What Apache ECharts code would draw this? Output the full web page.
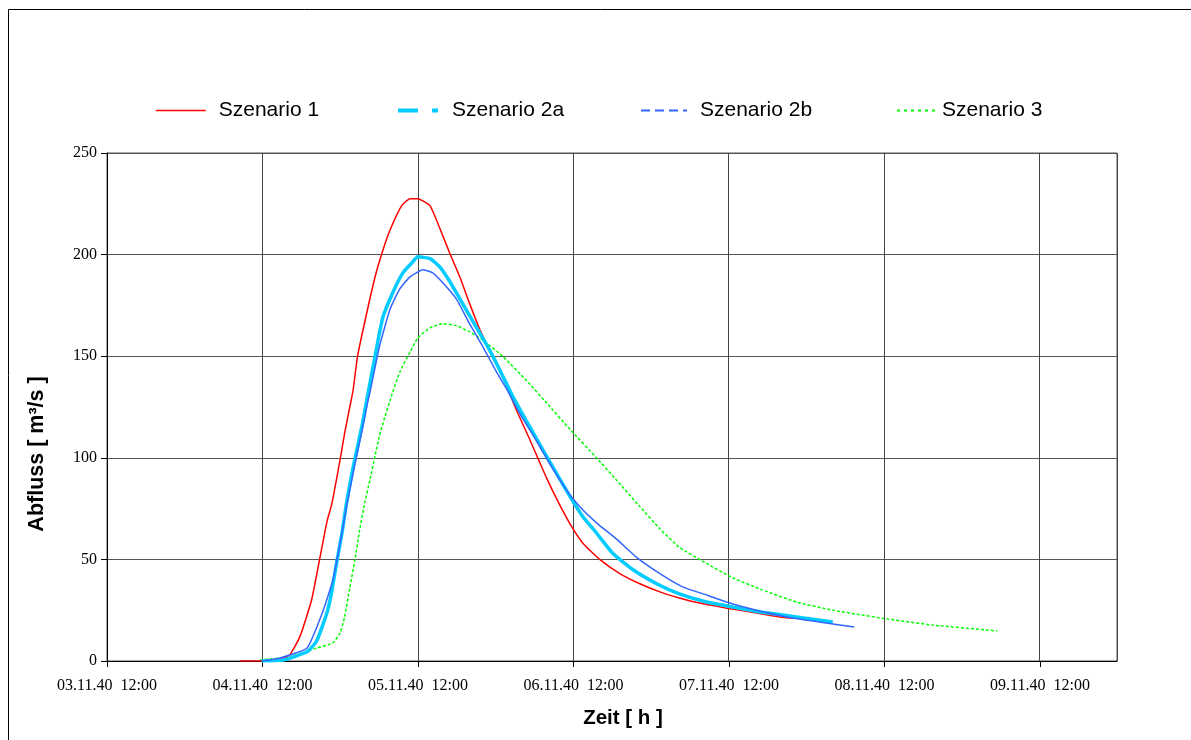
<!DOCTYPE html>
<html>
<head>
<meta charset="utf-8">
<script src="https://cdn.jsdelivr.net/npm/echarts@6/dist/echarts.min.js"></script>
<style>
html,body{margin:0;padding:0;background:#fff;}
#chart{width:1191px;height:740px;}
</style>
</head>
<body>
<div id="chart"></div>
<script>
// Hours since 03.11.40 12:00, discharge in m³/s
const xTickLabels = ['03.11.40  12:00','04.11.40  12:00','05.11.40  12:00','06.11.40  12:00','07.11.40  12:00','08.11.40  12:00','09.11.40  12:00'];
const yTicks = [0, 50, 100, 150, 200, 250];
const seriesNames = ['Szenario 1', 'Szenario 2a', 'Szenario 2b', 'Szenario 3'];

const szenario1 = [
  [20.5,0],[23.9,0],[26.4,0.5],[28.2,3],[29.8,12],[31.6,30],[32.9,51],[34.0,69],[34.7,77],[36.0,99],
  [36.7,112],[37.5,125],[38.0,133],[38.7,150],[40.1,171],[41.4,189],[42.6,202],[43.7,212],[45.5,224],
  [46.8,227.5],[48.0,227.5],[49.9,224],[51.4,213],[52.9,201],[54.5,189],[56.0,176],[57.6,163],[59.1,153],
  [61.1,140],[63.3,123],[65.3,109],[66.8,98],[67.9,90],[69.9,77],[71.8,66],[73.5,58],[76.1,50],[79.2,43],
  [82.3,38],[85.4,34],[88.4,31],[91.5,28.5],[95.8,26],[100.3,23.6],[103.9,21.7],[106.2,21]
];
const szenario2a = [
  [23.9,0],[27.2,0.5],[30.9,4.5],[32.4,10],[34.0,24],[34.7,34],[35.5,49],[36.3,63],[37.0,78],[38.0,95],
  [38.6,104],[39.4,116],[40.1,128],[41.7,155],[42.6,169],[44.1,181],[45.7,191],[47.1,196],[48.0,199],
  [49.9,198],[51.4,194],[52.9,187],[54.9,176],[57.1,164],[59.1,153],[60.7,143],[62.7,130],[64.8,118],
  [67.3,104],[69.5,92],[71.5,81],[73.5,71],[75.6,63],[78.1,53],[81.2,45],[84.9,38],[88.4,33],[92.6,29],
  [96.6,26.6],[101.2,24],[106.5,21.7],[112.1,19.2]
];
const szenario2b = [
  [23.9,0],[26.7,1.5],[30.9,6.4],[33.3,24],[34.9,40],[36.0,58],[37.0,76],[38.3,97],[39.5,115],[40.3,128],
  [40.6,132],[42.1,155],[43.7,173],[45.2,183],[46.8,189],[48.8,192.5],[50.3,191],[51.9,186],[54.0,178],
  [56.0,166],[58.0,155],[60.2,142],[61.7,134],[63.7,122],[66.4,108],[68.4,97],[71.0,84],[73.0,76],
  [75.6,68],[78.7,60],[81.8,51],[85.4,43],[88.9,36.5],[92.6,32.5],[96.2,28.5],[100.3,25],[105.0,21.7],
  [110.0,19.2],[115.4,16.7]
];
const szenario3 = [
  [23.6,0.5],[28.2,2],[32.4,6.4],[34.9,8.9],[36.0,13.8],[36.7,21.7],[37.5,36],[38.3,50],[39.0,64],
  [39.8,77.7],[40.6,89],[41.4,101],[42.1,111],[42.9,120],[44.0,131],[45.2,142],[46.8,152],[48.0,159],
  [49.9,164],[51.9,166],[54.0,165],[56.0,162],[58.0,158],[61.1,150],[64.8,138],[67.9,127],[71.5,114],
  [75.6,100],[78.7,89],[82.3,76],[85.4,65],[88.4,56],[92.6,48],[96.6,41],[101.2,35],[106.5,29],
  [112.1,25],[119.8,21],[127.5,17.7],[137.5,14.8]
];

const chart = echarts.init(document.getElementById('chart'));
const serif = 'Liberation Serif';
const sans = 'Liberation Sans';

function legendFor(name, left, width, color, lw, type, pad) {
  return {
    data: [name], left: left, top: 95, itemWidth: width, itemHeight: 14,
    selectedMode: false,
    itemStyle: { color: 'rgba(0,0,0,0)', borderWidth: 0, opacity: 0 },
    lineStyle: { color: color, width: lw, type: type, opacity: 1 },
    textStyle: { fontFamily: sans, fontSize: 21, color: '#000', padding: [0,0,0,pad] }
  };
}

const option = {
  animation: false,
  backgroundColor: '#fff',
  legend: [
    legendFor(seriesNames[0], 150, 50, '#FF0000', 1.5, 'solid', 8),
    legendFor(seriesNames[1], 391, 40, '#00CCFF', 4, [20,14,6,14], 9),
    legendFor(seriesNames[2], 635, 46, '#3366FF', 2, [9,5], 8),
    legendFor(seriesNames[3], 891, 40, '#00FF00', 2, [3,4], 0)
  ],
  grid: [
    { left: 107, right: 74, top: 153, bottom: 79, show: true, borderColor: '#555', borderWidth: 1 },
    { left: 107, right: 151, top: 153, bottom: 79, show: false }
  ],
  xAxis: [
    {
      type: 'value', gridIndex: 0, min: 0, max: 156, interval: 24,
      axisLine: { show: true, lineStyle: { color: '#000', width: 1 } },
      axisTick: { show: false },
      axisLabel: { show: false },
      splitLine: { show: true, lineStyle: { color: '#444', width: 1 } }
    },
    {
      type: 'value', gridIndex: 1, min: 0, max: 144, interval: 24,
      axisLine: { show: false },
      axisTick: { show: true, length: 6, lineStyle: { color: '#000' } },
      axisLabel: {
        show: true, margin: 17, fontFamily: serif, fontSize: 16, color: '#000',
        formatter: function (v) { return xTickLabels[Math.round(v / 24)] || ''; }
      },
      splitLine: { show: false }
    }
  ],
  yAxis: [
    {
      type: 'value', gridIndex: 0, min: 0, max: 250, interval: 50,
      axisLine: { show: true, lineStyle: { color: '#000', width: 1 } },
      axisTick: { show: true, length: 6, lineStyle: { color: '#000' } },
      axisLabel: {
        margin: 10, fontFamily: serif, fontSize: 16, color: '#000',
        formatter: function (v) { return yTicks.indexOf(v) >= 0 ? String(v) : ''; }
      },
      splitLine: { show: true, lineStyle: { color: '#555', width: 1 } }
    },
    { type: 'value', gridIndex: 1, min: 0, max: 250, show: false }
  ],
  graphic: [
    { type: 'rect', silent: true, shape: { x: 8.5, y: 9.5, width: 1300, height: 900 },
      style: { fill: 'none', stroke: '#000', lineWidth: 1 } },
    { type: 'text', silent: true, x: 623, y: 718,
      style: { text: 'Zeit [ h ]', fontFamily: sans, fontWeight: 'bold', fontSize: 20.5, fill: '#000', align: 'center', verticalAlign: 'middle' } },
    { type: 'text', silent: true, x: 37, y: 454, rotation: Math.PI / 2,
      style: { text: 'Abfluss [ m³/s ]', fontFamily: sans, fontWeight: 'bold', fontSize: 21.5, fill: '#000', align: 'center', verticalAlign: 'middle' } }
  ],
  series: [
    { name: seriesNames[0], type: 'line', xAxisIndex: 0, yAxisIndex: 0, data: szenario1, symbol: 'none', smooth: 0.15,
      lineStyle: { color: '#FF0000', width: 1.5 }, itemStyle: { color: '#FF0000' }, z: 3 },
    { name: seriesNames[3], type: 'line', xAxisIndex: 0, yAxisIndex: 0, data: szenario3, symbol: 'none', smooth: 0.15,
      lineStyle: { color: '#00FF00', width: 1.5, type: [3,2] }, itemStyle: { color: '#00FF00' }, z: 2 },
    { name: seriesNames[1], type: 'line', xAxisIndex: 0, yAxisIndex: 0, data: szenario2a, symbol: 'none', smooth: 0.15,
      lineStyle: { color: '#00CCFF', width: 3.5 }, itemStyle: { color: '#00CCFF' }, z: 4 },
    { name: seriesNames[2], type: 'line', xAxisIndex: 0, yAxisIndex: 0, data: szenario2b, symbol: 'none', smooth: 0.15,
      lineStyle: { color: '#3366FF', width: 1.5 }, itemStyle: { color: '#3366FF' }, z: 5 }
  ]
};
chart.setOption(option);
</script>
</body>
</html>
